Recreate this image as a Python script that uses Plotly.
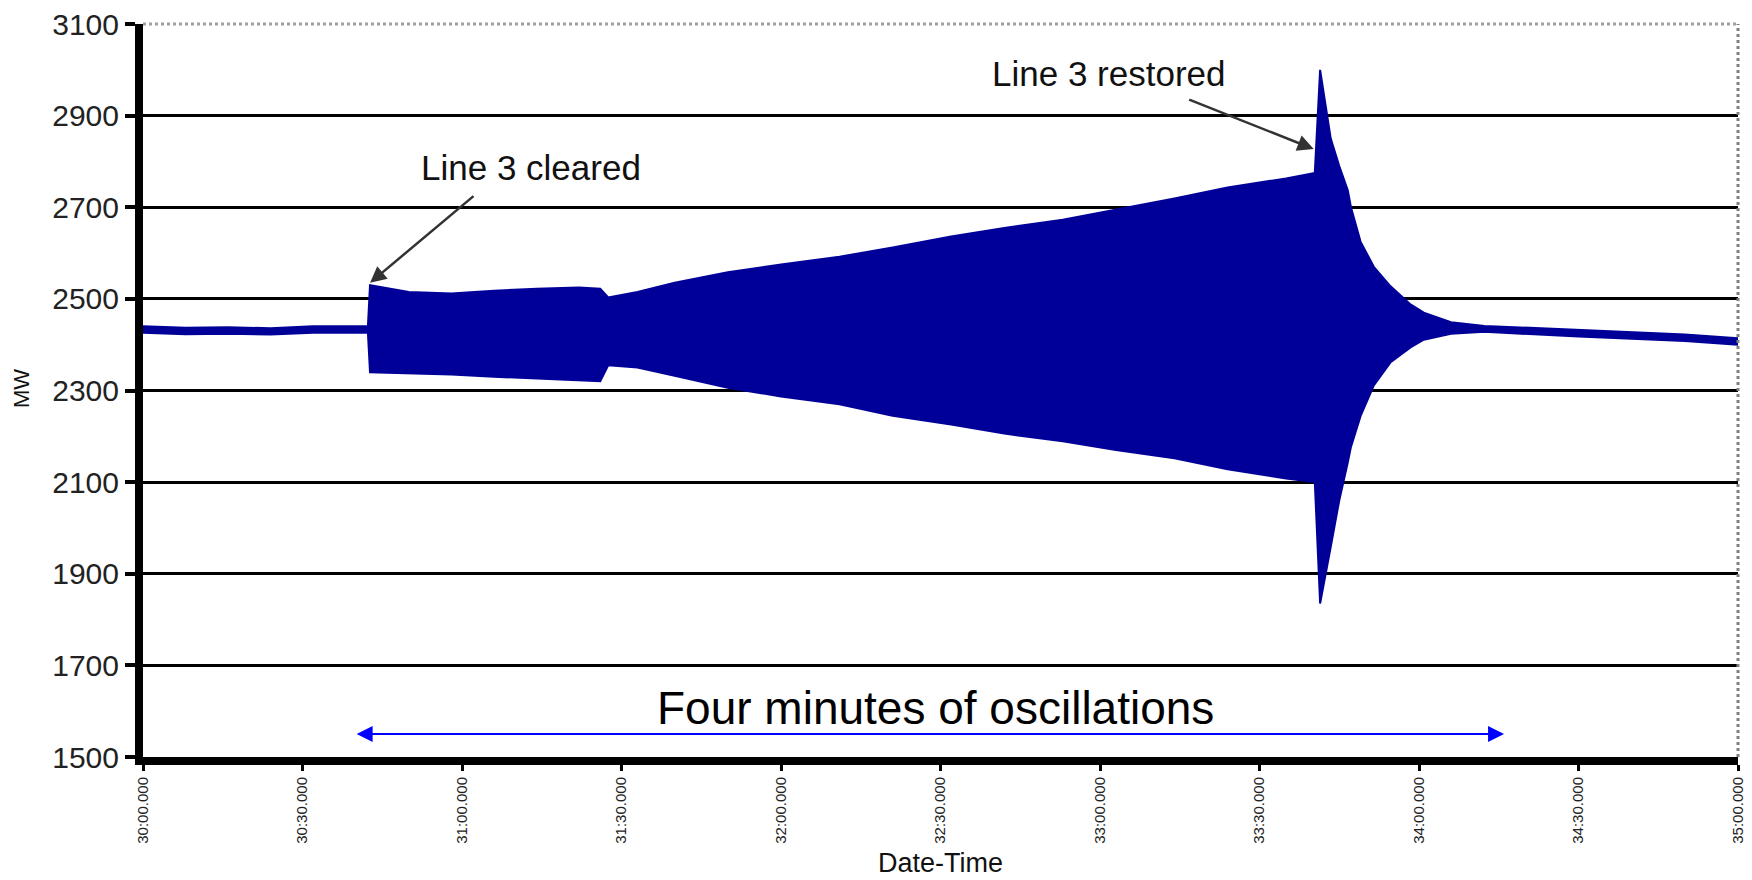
import plotly.graph_objects as go

# time in seconds after 30:00
time_s = [0, 8, 16, 24, 32, 40, 42.3, 42.7, 50, 58, 66, 74, 82, 86, 87.5, 93, 100,
          110, 120, 131, 141, 152, 162, 173, 183, 194, 204, 215, 220.4, 221.4,
          223.4, 225.0, 226.6, 227.2, 229.0, 231.5, 234.6, 238.4, 240.9, 246.0,
          252.3, 260, 270, 280, 290, 300]
upper_mw = [2440, 2437, 2438, 2436, 2440, 2441, 2440, 2530, 2515, 2512, 2518, 2522, 2525, 2522,
            2503, 2515, 2535, 2558, 2575, 2592, 2612, 2636, 2655, 2673, 2695, 2719, 2743,
            2763, 2775, 3000, 2850, 2790, 2737, 2700, 2625, 2570, 2528, 2488, 2470, 2449,
            2441, 2437, 2432, 2427, 2422, 2414]
lower_mw = [2426, 2423, 2424, 2422, 2426, 2427, 2426, 2340, 2338, 2335, 2330, 2326, 2322, 2320,
            2355, 2350, 2332, 2306, 2287, 2270, 2245, 2226, 2206, 2189, 2170, 2152, 2128,
            2108, 2100, 1835, 1959, 2060, 2143, 2177, 2244, 2311, 2361, 2394, 2411, 2424,
            2428, 2423, 2418, 2413, 2408, 2400]

tick_seconds = [0, 30, 60, 90, 120, 150, 180, 210, 240, 270, 300]
tick_labels = ["30:00.000", "30:30.000", "31:00.000", "31:30.000", "32:00.000", "32:30.000",
               "33:00.000", "33:30.000", "34:00.000", "34:30.000", "35:00.000"]
y_ticks = [1500, 1700, 1900, 2100, 2300, 2500, 2700, 2900, 3100]

NAVY = "#000099"
FONT = "Arial, Liberation Sans, sans-serif"

fig = go.Figure()
fig.add_trace(go.Scatter(x=time_s, y=lower_mw, mode="lines",
                         line=dict(color=NAVY, width=2), hoverinfo="skip", showlegend=False))
fig.add_trace(go.Scatter(x=time_s, y=upper_mw, mode="lines", fill="tonexty",
                         fillcolor=NAVY, line=dict(color=NAVY, width=2),
                         hoverinfo="skip", showlegend=False))

fig.update_layout(
    width=1744, height=872,
    margin=dict(l=135, r=14, t=16, b=123),
    paper_bgcolor="white", plot_bgcolor="white",
    font=dict(family=FONT, color="#111"),
    xaxis=dict(range=[0, 300], tickvals=tick_seconds, ticktext=tick_labels,
               tickangle=-90, tickfont=dict(size=15, family=FONT, color="#222"),
               showgrid=False, zeroline=False, automargin=False,
               showline=True, linecolor="black", linewidth=8,
               ticks="outside", ticklen=6, tickwidth=3, tickcolor="black",
               ticklabeloverflow="allow"),
    yaxis=dict(range=[1500, 3100], tickvals=y_ticks,
               tickfont=dict(size=30, family=FONT, color="#222"),
               showgrid=True, gridcolor="black", gridwidth=2.5, zeroline=False,
               automargin=False,
               showline=True, linecolor="black", linewidth=8,
               ticks="outside", ticklen=10, tickwidth=4, tickcolor="black",
               ticklabelstandoff=0, ticklabeloverflow="allow"),
    shapes=[
        dict(type="line", xref="paper", yref="paper", x0=0, x1=1, y0=1, y1=1,
             line=dict(color="#a0a0a0", width=3, dash="dot")),
        dict(type="line", xref="paper", yref="paper", x0=1, x1=1, y0=0, y1=1,
             line=dict(color="#808080", width=3, dash="dot")),
    ],
)

annotations = [
    # texts
    dict(x=73.0, y=2786, xref="x", yref="y", text="Line 3 cleared", showarrow=False,
         font=dict(size=35, family=FONT, color="#111")),
    dict(x=181.6, y=2993, xref="x", yref="y", text="Line 3 restored", showarrow=False,
         font=dict(size=35, family=FONT, color="#111")),
    dict(x=149, y=1607, xref="x", yref="y", text="Four minutes of oscillations",
         showarrow=False, font=dict(size=46, family=FONT, color="black")),
    dict(xref="paper", yref="paper", x=0.5, y=-0.145, xanchor="center", yanchor="middle",
         text="Date-Time", showarrow=False, font=dict(size=27, family=FONT, color="#111")),
    dict(xref="paper", yref="paper", x=-0.076, y=0.503, xanchor="center", yanchor="middle",
         text="MW", showarrow=False, textangle=-90,
         font=dict(size=22, family=FONT, color="#111")),
    # arrows
    dict(x=42.7, y=2535, xref="x", yref="y", text="", showarrow=True,
         ax=105, ay=-88, arrowhead=2, arrowsize=1.3, arrowwidth=2.5, arrowcolor="#333"),
    dict(x=220.2, y=2827, xref="x", yref="y", text="", showarrow=True,
         ax=-126, ay=-50, arrowhead=2, arrowsize=1.3, arrowwidth=2.5, arrowcolor="#333"),
    dict(x=256, y=1550, xref="x", yref="y", ax=39.9, ay=1550, axref="x", ayref="y",
         text="", showarrow=True, arrowside="end+start", arrowhead=2, startarrowhead=2,
         arrowsize=1.6, startarrowsize=1.6, arrowwidth=2, arrowcolor="#0000ff"),
]
fig.update_layout(annotations=annotations)

fig.write_html("out.html")
